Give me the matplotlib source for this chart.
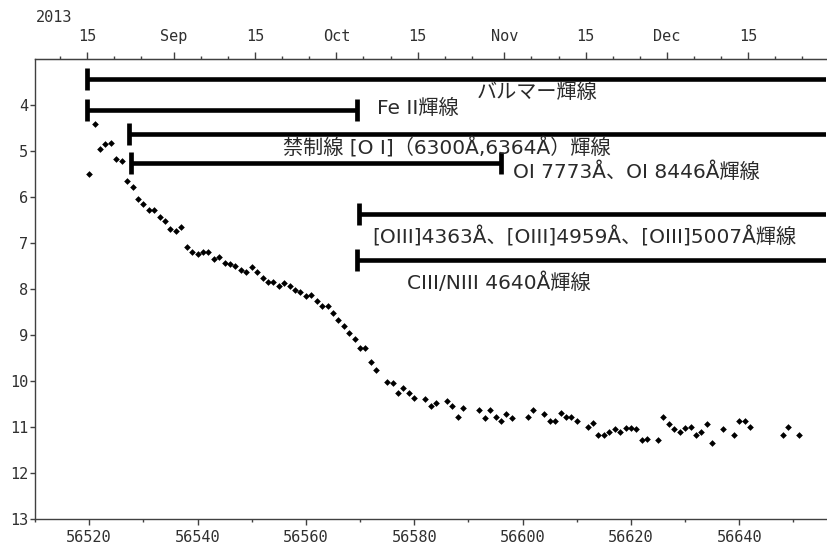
import numpy as np
import matplotlib
matplotlib.use("Agg")
import matplotlib.pyplot as plt

# ---------------- data ----------------
mjd = [56520, 56521, 56522, 56523, 56524, 56525, 56526, 56527, 56528, 56529,
       56530, 56531, 56532, 56533, 56534, 56535, 56536, 56537, 56538, 56539,
       56540, 56541, 56542, 56543, 56544, 56545, 56546, 56547, 56548, 56549,
       56550, 56551, 56552, 56553, 56554, 56555, 56556, 56557, 56558, 56559,
       56560, 56561, 56562, 56563, 56564, 56565, 56566, 56567, 56568, 56569,
       56570, 56571, 56572, 56573, 56575, 56576, 56577, 56578, 56579, 56580,
       56582, 56583, 56584, 56586, 56587, 56588, 56589, 56592, 56593, 56594,
       56595, 56596, 56597, 56598, 56601, 56602, 56604, 56605, 56606, 56607,
       56608, 56609, 56610, 56612, 56613, 56614, 56615, 56616, 56617, 56618,
       56619, 56620, 56621, 56622, 56623, 56625, 56626, 56627, 56628, 56629,
       56630, 56631, 56632, 56633, 56634, 56635, 56637, 56639, 56640, 56641,
       56642, 56648, 56649, 56651]
mag = [5.49, 4.41, 4.96, 4.85, 4.82, 5.17, 5.21, 5.65, 5.78, 6.05,
       6.16, 6.28, 6.28, 6.44, 6.52, 6.70, 6.74, 6.66, 7.08, 7.19,
       7.24, 7.19, 7.19, 7.35, 7.30, 7.43, 7.45, 7.50, 7.59, 7.63,
       7.53, 7.64, 7.77, 7.85, 7.85, 7.93, 7.88, 7.93, 8.03, 8.06,
       8.16, 8.13, 8.25, 8.36, 8.38, 8.53, 8.68, 8.80, 8.96, 9.09,
       9.28, 9.28, 9.58, 9.76, 10.03, 10.04, 10.25, 10.16, 10.25, 10.36,
       10.39, 10.54, 10.48, 10.43, 10.54, 10.78, 10.59, 10.64, 10.80, 10.64,
       10.78, 10.86, 10.72, 10.80, 10.78, 10.64, 10.72, 10.88, 10.88, 10.70,
       10.78, 10.78, 10.86, 10.99, 10.91, 11.18, 11.18, 11.10, 11.04, 11.10,
       11.02, 11.02, 11.04, 11.28, 11.26, 11.28, 10.78, 10.94, 11.04, 11.10,
       11.02, 10.99, 11.18, 11.10, 10.94, 11.34, 11.04, 11.18, 10.88, 10.88,
       10.99, 11.18, 10.99, 11.18]

line_labels = ["バルマー輝線",
               "Fe II輝線",
               "禁制線 [O I]（6300Å,6364Å）輝線",
               "OI 7773Å、OI 8446Å輝線",
               "[OIII]4363Å、[OIII]4959Å、[OIII]5007Å輝線",
               "CIII/NIII 4640Å輝線"]
line_start = [56519.6, 56519.6, 56527.3, 56527.8, 56569.8, 56569.5]
line_end = [None, 56569.5, None, 56596.1, None, None]   # None = still present
line_level = [3.43, 4.10, 4.62, 5.26, 6.36, 7.37]

x_ticks = [56520, 56540, 56560, 56580, 56600, 56620, 56640]
y_ticks = [4, 5, 6, 7, 8, 9, 10, 11, 12, 13]

top_major_dates = ["2013-08-16", "2013-09-01", "2013-09-16", "2013-10-01",
                   "2013-10-16", "2013-11-01", "2013-11-16", "2013-12-01",
                   "2013-12-16"]
top_major_labels = ["15", "Sep", "15", "Oct", "15", "Nov", "15", "Dec", "15"]
top_minor_days = [6, 11, 21, 26]
top_months = ["2013-08", "2013-09", "2013-10", "2013-11", "2013-12"]

# label placement (x of left edge, y centre) in data units
label_x = [56591.6, 56573.1, 56555.7, 56598.3, 56572.3, 56578.7]
label_y = [3.72, 4.07, 4.93, 5.45, 6.86, 7.86]

# ---------------- figure ----------------
fig = plt.figure(figsize=(8.27, 5.45), dpi=100)
ax = fig.add_axes([35 / 827, 26 / 545, 791 / 827, 460 / 545])
ax.set_xlim(56510, 56656)
ax.set_ylim(13, 3)

mono = "DejaVu Sans Mono"
lab_family = ["DejaVu Sans", "Noto Sans CJK JP"]
tick_fs = 11

ax.plot(mjd, mag, linestyle="none", marker="D", markersize=3.4,
        color="black", markeredgewidth=0)

xmax = ax.get_xlim()[1]
for s, e, lv in zip(line_start, line_end, line_level):
    ee = xmax + 5 if e is None else e
    ax.plot([s, ee], [lv, lv], color="black", lw=3.3, solid_capstyle="butt",
            clip_on=True)
    caps = [s] if e is None else [s, e]
    ax.plot(caps, [lv] * len(caps), linestyle="none", marker="|",
            markersize=16, markeredgewidth=3.4, color="black")

for txt, lx, ly in zip(line_labels, label_x, label_y):
    ax.text(lx, ly, txt, ha="left", va="center", fontsize=14.5,
            color="#2a2a2a", family=lab_family)

# axes styling
ax.spines["right"].set_visible(False)
for sp in ["left", "bottom", "top"]:
    ax.spines[sp].set_color("#404040")
    ax.spines[sp].set_linewidth(1.0)

ax.set_xticks(x_ticks)
ax.set_xticklabels([str(v) for v in x_ticks], family=mono, fontsize=tick_fs,
                   color="#303030")
ax.set_xticks([v + 10 for v in [56500] + x_ticks], minor=True)
ax.set_yticks(y_ticks)
ax.set_yticklabels([str(v) for v in y_ticks], family=mono, fontsize=tick_fs,
                   color="#303030")
ax.tick_params(axis="x", which="major", direction="out", length=4.5, width=1,
               pad=3.5, color="#404040")
ax.tick_params(axis="x", which="minor", direction="out", length=2.2, width=1,
               color="#404040")
ax.tick_params(axis="y", which="major", direction="out", length=3.5, width=1,
               pad=1.5, color="#404040")
ax.tick_params(axis="y", which="minor", left=False)

# top date axis
epoch = np.datetime64("1858-11-17")
shift = -0.37


def to_mjd(d):
    return float((np.datetime64(d) - epoch) / np.timedelta64(1, "D")) + shift


top_major = [to_mjd(d) for d in top_major_dates]
top_minor = [to_mjd(f"{m}-{d:02d}") for m in top_months for d in top_minor_days]
ax2 = ax.twiny()
ax2.set_xlim(ax.get_xlim())
ax2.set_xticks(top_major)
ax2.set_xticklabels(top_major_labels, family=mono, fontsize=tick_fs,
                    color="#303030")
ax2.set_xticks([t for t in top_minor if 56510 <= t <= 56656], minor=True)
ax2.tick_params(axis="x", which="major", direction="out", length=5, width=1,
                pad=5.5, color="#404040")
ax2.tick_params(axis="x", which="minor", direction="out", length=2.2, width=1,
                color="#404040")
for sp in ["right", "left", "bottom"]:
    ax2.spines[sp].set_visible(False)
ax2.spines["top"].set_color("#404040")

fig.text(36 / 827, 1 - 18 / 545, "2013", family=mono, fontsize=tick_fs,
         color="#303030", ha="left", va="center")

fig.savefig("out.png", dpi=100)
